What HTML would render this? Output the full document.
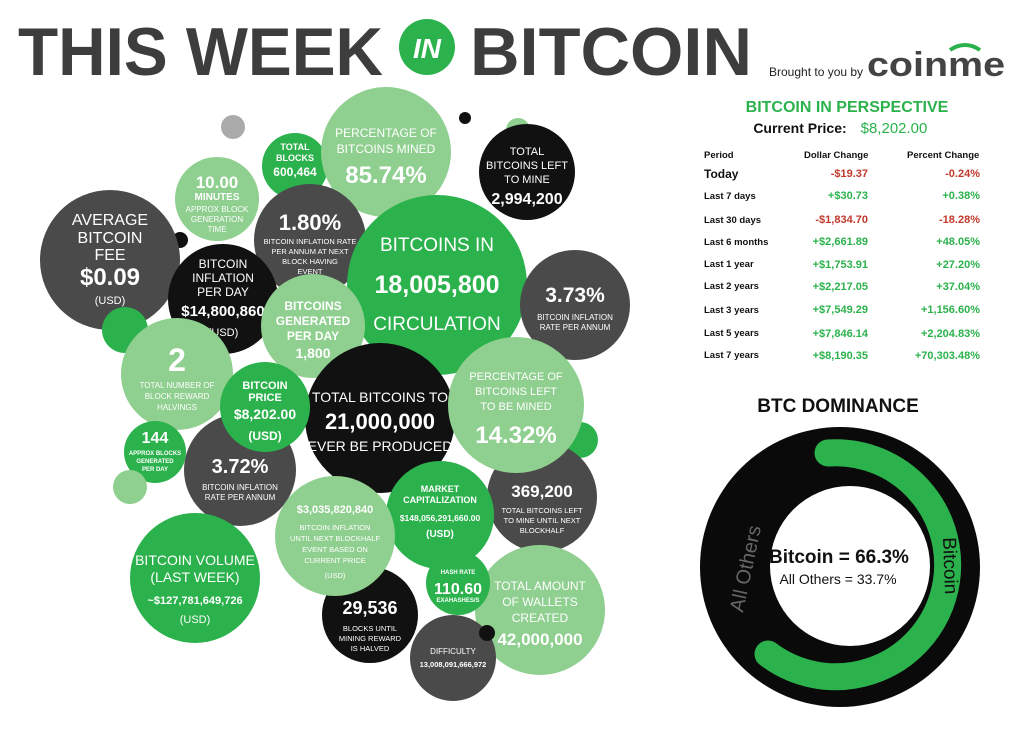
<!DOCTYPE html>
<html><head><meta charset="utf-8"><style>
html,body{margin:0;padding:0;background:#fff}
svg{display:block}
text{font-family:"Liberation Sans",sans-serif}
</style></head><body>
<svg width="1024" height="734" viewBox="0 0 1024 734" xmlns="http://www.w3.org/2000/svg">
<rect width="1024" height="734" fill="#fff"/>
<!-- header -->
<text x="18" y="75" font-size="68" font-weight="bold" fill="#3d3d3d" textLength="365" lengthAdjust="spacingAndGlyphs">THIS WEEK</text>
<circle cx="427" cy="47" r="28" fill="#2bb24c"/>
<text x="427" y="58" font-size="28" font-weight="bold" font-style="italic" fill="#fff" text-anchor="middle">IN</text>
<text x="470" y="75" font-size="68" font-weight="bold" fill="#3d3d3d" textLength="282" lengthAdjust="spacingAndGlyphs">BITCOIN</text>
<text x="769" y="76" font-size="12" fill="#222">Brought to you by</text>
<text x="867" y="76" font-size="34" font-weight="bold" fill="#444" textLength="138" lengthAdjust="spacingAndGlyphs">coinme</text>
<path d="M950 50 Q965 40 980 50" stroke="#2bb24c" stroke-width="4" fill="none"/>

<g font-weight="bold" text-anchor="middle" fill="#fff">
<circle cx="233" cy="127" r="12" fill="#aaa"/>
<circle cx="465" cy="118" r="6" fill="#111"/>
<circle cx="518" cy="130" r="12" fill="#8fcf8f"/>
<circle cx="295" cy="166" r="33" fill="#2bb24c"/>
<text x="295" y="150" font-size="9">TOTAL</text><text x="295" y="161" font-size="9">BLOCKS</text><text x="295" y="176" font-size="12">600,464</text>
<circle cx="386" cy="152" r="65" fill="#8fcf8f"/>
<text x="386" y="137" font-size="12" font-weight="normal">PERCENTAGE OF</text><text x="386" y="153" font-size="12" font-weight="normal">BITCOINS MINED</text><text x="386" y="183" font-size="24">85.74%</text>
<circle cx="527" cy="172" r="48" fill="#111"/>
<text x="527" y="155" font-size="11" font-weight="normal">TOTAL</text><text x="527" y="169" font-size="11" font-weight="normal">BITCOINS LEFT</text><text x="527" y="183" font-size="11" font-weight="normal">TO MINE</text><text x="527" y="204" font-size="16">2,994,200</text>
<circle cx="217" cy="199" r="42" fill="#8fcf8f"/>
<text x="217" y="188" font-size="17">10.00</text><text x="217" y="200" font-size="10">MINUTES</text><text x="217" y="212" font-size="8" font-weight="normal">APPROX BLOCK</text><text x="217" y="222" font-size="8" font-weight="normal">GENERATION</text><text x="217" y="232" font-size="8" font-weight="normal">TIME</text>
<circle cx="180" cy="240" r="8" fill="#111"/>
<circle cx="110" cy="260" r="70" fill="#4a4a4a"/>
<text x="110" y="225" font-size="16" font-weight="normal">AVERAGE</text><text x="110" y="243" font-size="16" font-weight="normal">BITCOIN</text><text x="110" y="260" font-size="16" font-weight="normal">FEE</text><text x="110" y="285" font-size="24">$0.09</text><text x="110" y="304" font-size="11" font-weight="normal">(USD)</text>
<circle cx="310" cy="240" r="56" fill="#4a4a4a"/>
<text x="310" y="230" font-size="22">1.80%</text><text x="310" y="244" font-size="7.5" font-weight="normal">BITCOIN INFLATION RATE</text><text x="310" y="254" font-size="7.5" font-weight="normal">PER ANNUM AT NEXT</text><text x="310" y="264" font-size="7.5" font-weight="normal">BLOCK HAVING</text><text x="310" y="274" font-size="7.5" font-weight="normal">EVENT</text>
<circle cx="437" cy="285" r="90" fill="#2bb24c"/>
<text x="437" y="251" font-size="19" font-weight="normal">BITCOINS IN</text><text x="437" y="293" font-size="25">18,005,800</text><text x="437" y="330" font-size="19" font-weight="normal">CIRCULATION</text>
<circle cx="223" cy="299" r="55" fill="#111"/>
<text x="223" y="268" font-size="12" font-weight="normal">BITCOIN</text><text x="223" y="282" font-size="12" font-weight="normal">INFLATION</text><text x="223" y="296" font-size="12" font-weight="normal">PER DAY</text><text x="223" y="316" font-size="15">$14,800,860</text><text x="223" y="336" font-size="11" font-weight="normal">(USD)</text>
<circle cx="575" cy="305" r="55" fill="#4a4a4a"/>
<text x="575" y="302" font-size="21">3.73%</text><text x="575" y="320" font-size="8" font-weight="normal">BITCOIN  INFLATION</text><text x="575" y="330" font-size="8" font-weight="normal">RATE PER ANNUM</text>
<circle cx="125" cy="330" r="23" fill="#2bb24c"/>
<circle cx="177" cy="374" r="56" fill="#8fcf8f"/>
<text x="177" y="371" font-size="32">2</text><text x="177" y="388" font-size="8" font-weight="normal">TOTAL NUMBER OF</text><text x="177" y="399" font-size="8" font-weight="normal">BLOCK REWARD</text><text x="177" y="410" font-size="8" font-weight="normal">HALVINGS</text>
<circle cx="313" cy="326" r="52" fill="#8fcf8f"/>
<text x="313" y="310" font-size="12">BITCOINS</text><text x="313" y="325" font-size="12">GENERATED</text><text x="313" y="340" font-size="12">PER DAY</text><text x="313" y="358" font-size="14">1,800</text>
<circle cx="240" cy="470" r="56" fill="#4a4a4a"/>
<text x="240" y="473" font-size="20">3.72%</text><text x="240" y="490" font-size="8" font-weight="normal">BITCOIN  INFLATION</text><text x="240" y="500" font-size="8" font-weight="normal">RATE PER ANNUM</text>
<circle cx="380" cy="418" r="75" fill="#111"/>
<text x="380" y="402" font-size="14" font-weight="normal">TOTAL BITCOINS TO</text><text x="380" y="429" font-size="22">21,000,000</text><text x="380" y="451" font-size="14" font-weight="normal">EVER BE PRODUCED</text>
<circle cx="265" cy="407" r="45" fill="#2bb24c"/>
<text x="265" y="389" font-size="11">BITCOIN</text><text x="265" y="401" font-size="11">PRICE</text><text x="265" y="419" font-size="14">$8,202.00</text><text x="265" y="440" font-size="12">(USD)</text>
<circle cx="580" cy="440" r="18" fill="#2bb24c"/>
<circle cx="542" cy="497" r="55" fill="#4a4a4a"/>
<text x="542" y="497" font-size="17">369,200</text><text x="542" y="513" font-size="7.5" font-weight="normal">TOTAL BITCOINS LEFT</text><text x="542" y="523" font-size="7.5" font-weight="normal">TO MINE UNTIL NEXT</text><text x="542" y="533" font-size="7.5" font-weight="normal">BLOCKHALF</text>
<circle cx="516" cy="405" r="68" fill="#8fcf8f"/>
<text x="516" y="380" font-size="11" font-weight="normal">PERCENTAGE OF</text><text x="516" y="395" font-size="11" font-weight="normal">BITCOINS LEFT</text><text x="516" y="410" font-size="11" font-weight="normal">TO BE MINED</text><text x="516" y="443" font-size="24">14.32%</text>
<circle cx="155" cy="452" r="31" fill="#2bb24c"/>
<text x="155" y="443" font-size="16">144</text><text x="155" y="455" font-size="6">APPROX BLOCKS</text><text x="155" y="463" font-size="6">GENERATED</text><text x="155" y="471" font-size="6">PER DAY</text>
<circle cx="130" cy="487" r="17" fill="#8fcf8f"/>
<circle cx="440" cy="515" r="54" fill="#2bb24c"/>
<text x="440" y="492" font-size="9">MARKET</text><text x="440" y="503" font-size="9">CAPITALIZATION</text><text x="440" y="521" font-size="8.5">$148,056,291,660.00</text><text x="440" y="537" font-size="10">(USD)</text>
<circle cx="370" cy="615" r="48" fill="#111"/>
<text x="370" y="614" font-size="18">29,536</text><text x="370" y="631" font-size="7.5" font-weight="normal">BLOCKS UNTIL</text><text x="370" y="641" font-size="7.5" font-weight="normal">MINING REWARD</text><text x="370" y="651" font-size="7.5" font-weight="normal">IS HALVED</text>
<circle cx="335" cy="536" r="60" fill="#8fcf8f"/>
<text x="335" y="513" font-size="11">$3,035,820,840</text><text x="335" y="530" font-size="7.5" font-weight="normal">BITCOIN INFLATION</text><text x="335" y="541" font-size="7.5" font-weight="normal">UNTIL NEXT BLOCKHALF</text><text x="335" y="552" font-size="7.5" font-weight="normal">EVENT BASED ON</text><text x="335" y="563" font-size="7.5" font-weight="normal">CURRENT PRICE</text><text x="335" y="578" font-size="7.5" font-weight="normal">(USD)</text>
<circle cx="195" cy="578" r="65" fill="#2bb24c"/>
<text x="195" y="565" font-size="14" font-weight="normal">BITCOIN VOLUME</text><text x="195" y="582" font-size="14" font-weight="normal">(LAST WEEK)</text><text x="195" y="604" font-size="11">~$127,781,649,726</text><text x="195" y="623" font-size="11" font-weight="normal">(USD)</text>
<circle cx="540" cy="610" r="65" fill="#8fcf8f"/>
<text x="540" y="590" font-size="12" font-weight="normal">TOTAL AMOUNT</text><text x="540" y="606" font-size="12" font-weight="normal">OF WALLETS</text><text x="540" y="622" font-size="12" font-weight="normal">CREATED</text><text x="540" y="645" font-size="17">42,000,000</text>
<circle cx="458" cy="583" r="32" fill="#2bb24c"/>
<text x="458" y="574" font-size="6">HASH RATE</text><text x="458" y="594" font-size="16">110.60</text><text x="458" y="602" font-size="6">EXAHASHES/S</text>
<circle cx="453" cy="658" r="43" fill="#4a4a4a"/>
<text x="453" y="654" font-size="8" font-weight="normal">DIFFICULTY</text><text x="453" y="667" font-size="7.5">13,008,091,666,972</text>
<circle cx="487" cy="633" r="8" fill="#111"/>
</g>

<!-- perspective table -->
<g font-weight="bold">
<text x="847" y="112" font-size="16" fill="#2bb24c" text-anchor="middle">BITCOIN IN PERSPECTIVE</text>
<text x="800" y="133" font-size="14" fill="#111" text-anchor="middle">Current Price:</text>
<text x="894" y="133" font-size="15" fill="#2bb24c" text-anchor="middle" font-weight="normal">$8,202.00</text>
<g font-size="9.5" fill="#111">
<text x="704" y="158">Period</text><text x="804" y="158">Dollar Change</text><text x="907" y="158">Percent Change</text>
</g>
<g font-size="9.5" fill="#111">
<text x="704" y="178" font-size="12">Today</text>
<text x="704" y="199">Last 7 days</text>
<text x="704" y="223">Last 30 days</text>
<text x="704" y="245">Last 6 months</text>
<text x="704" y="267">Last 1 year</text>
<text x="704" y="289">Last 2 years</text>
<text x="704" y="313">Last 3 years</text>
<text x="704" y="336">Last 5 years</text>
<text x="704" y="358">Last 7 years</text>
</g>
<g font-size="11" text-anchor="end">
<text x="868" y="177" fill="#c0392b">-$19.37</text><text x="980" y="177" fill="#c0392b">-0.24%</text>
<text x="868" y="199" fill="#2bb24c">+$30.73</text><text x="980" y="199" fill="#2bb24c">+0.38%</text>
<text x="868" y="223" fill="#c0392b">-$1,834.70</text><text x="980" y="223" fill="#c0392b">-18.28%</text>
<text x="868" y="245" fill="#2bb24c">+$2,661.89</text><text x="980" y="245" fill="#2bb24c">+48.05%</text>
<text x="868" y="268" fill="#2bb24c">+$1,753.91</text><text x="980" y="268" fill="#2bb24c">+27.20%</text>
<text x="868" y="290" fill="#2bb24c">+$2,217.05</text><text x="980" y="290" fill="#2bb24c">+37.04%</text>
<text x="868" y="313" fill="#2bb24c">+$7,549.29</text><text x="980" y="313" fill="#2bb24c">+1,156.60%</text>
<text x="868" y="337" fill="#2bb24c">+$7,846.14</text><text x="980" y="337" fill="#2bb24c">+2,204.83%</text>
<text x="868" y="359" fill="#2bb24c">+$8,190.35</text><text x="980" y="359" fill="#2bb24c">+70,303.48%</text>
</g>
</g>

<!-- dominance -->
<text x="838" y="412" font-size="19" font-weight="bold" fill="#111" text-anchor="middle">BTC DOMINANCE</text>
<circle cx="840" cy="567" r="140" fill="#0a0a0a"/>
<circle cx="850" cy="566" r="80" fill="#fff"/>
<path d="M 828 453 A 112 112 0 1 1 768 654" fill="none" stroke="#2bb24c" stroke-width="27" stroke-linecap="round"/>
<text transform="translate(752,570) rotate(-78)" font-size="20" fill="#666" text-anchor="middle">All Others</text>
<text transform="translate(944,566) rotate(88)" font-size="19" fill="#111" text-anchor="middle">Bitcoin</text>
<text x="839" y="563" font-size="19" font-weight="bold" fill="#111" text-anchor="middle">Bitcoin = 66.3%</text>
<text x="838" y="584" font-size="14" fill="#111" text-anchor="middle">All Others = 33.7%</text>
</svg>
</body></html>
